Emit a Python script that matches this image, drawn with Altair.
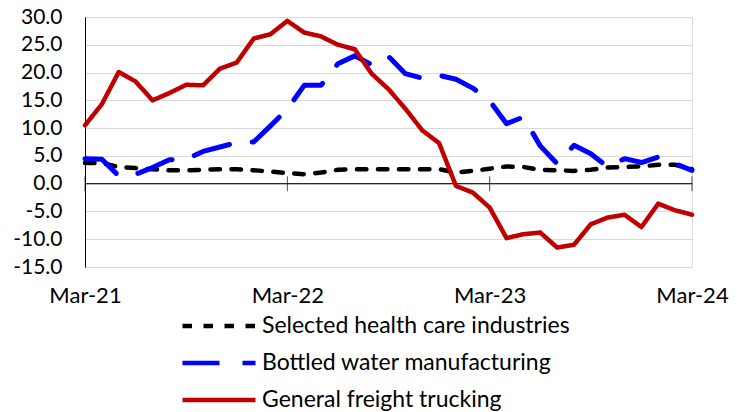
import altair as alt
import pandas as pd

months = [d.strftime("%b-%y") for d in pd.date_range("2021-03-01", "2024-03-01", freq="MS")]
tick_labels = ["Mar-21", "Mar-22", "Mar-23", "Mar-24"]
y_ticks = [-15, -10, -5, 0, 5, 10, 15, 20, 25, 30]

series_names = [
    "Selected health care industries",
    "Bottled water manufacturing",
    "General freight trucking",
]
health = [3.7, 3.7, 3.0, 2.8, 2.6, 2.4, 2.4, 2.5, 2.6, 2.6, 2.4, 2.2,
          1.9, 1.7, 2.0, 2.5, 2.6, 2.6, 2.6, 2.6, 2.6, 2.6, 2.0, 2.3,
          2.7, 3.1, 3.0, 2.5, 2.4, 2.3, 2.5, 2.9, 3.0, 3.1, 3.4, 3.4,
          2.6]
bottled = [4.5, 4.4, 1.4, 1.7, 2.9, 4.3, 4.4, 5.8, 6.6, 7.4, 7.5, 10.4,
           13.4, 17.7, 17.7, 21.6, 23.0, 21.4, 22.9, 19.8, 19.0, 19.5, 18.8, 17.2,
           14.9, 10.8, 12.0, 6.8, 3.6, 6.9, 5.4, 3.0, 4.5, 3.8, 4.8, 3.6,
           2.4]
freight = [10.5, 14.3, 20.1, 18.4, 15.0, 16.3, 17.8, 17.7, 20.7, 21.8, 26.1, 26.9,
           29.3, 27.2, 26.5, 25.0, 24.2, 19.8, 17.0, 13.5, 9.6, 7.3, -0.4, -1.6,
           -4.3, -9.8, -9.1, -8.8, -11.5, -11.0, -7.3, -6.1, -5.6, -7.8, -3.6, -4.8,
           -5.6]

colors = ["#000000", "#0000FF", "#C00000"]
dashes = [[9.5, 11.5], [37, 23], [1, 0]]
widths = [4.5, 5, 4.5]

rows = []
for name, vals in zip(series_names, [health, bottled, freight]):
    for m, v in zip(months, vals):
        rows.append({"month": m, "series": name, "value": v})
df = pd.DataFrame(rows)

FONT = "Lato"
FS = 22

x_scale = alt.Scale(type="point", padding=0)
y_scale = alt.Scale(domain=[-15, 30], nice=False, zero=False)

legend = alt.Legend(
    title=None,
    orient="none",
    legendX=95,
    legendY=298,
    direction="vertical",
    symbolType="stroke",
    symbolSize=5329,
    symbolStrokeWidth=4.5,
    clipHeight=22,
    rowPadding=14,
    labelFont=FONT,
    labelFontSize=23,
    labelColor="black",
    labelOffset=4,
    labelLimit=600,
)

color = alt.Color("series:N", scale=alt.Scale(domain=series_names, range=colors), legend=legend)
dash = alt.StrokeDash("series:N", scale=alt.Scale(domain=series_names, range=dashes), legend=legend)

x_axis = alt.Axis(
    values=tick_labels, labelAngle=0, domain=False, ticks=False, grid=False,
    labelPadding=18, labelFont=FONT, labelFontSize=FS, labelColor="black", title=None,
    labelFlush=False, labelAlign="center", labelOverlap=False, labelBound=False,
)
y_axis = alt.Axis(
    values=y_ticks, ticks=False, domainColor="black", domainWidth=1,
    labelExpr="(datum.value < 0 ? '-' : '') + format(abs(datum.value), '.1f')",
    gridColor="#D9D9D9", gridWidth=1, labelPadding=23, labelFont=FONT,
    labelFontSize=21, labelColor="black", title=None, labelOverlap=False,
    labelFlush=False, labelBound=False,
)
x_enc = alt.X("month:O", sort=months, scale=x_scale, axis=x_axis)
y_enc = alt.Y("value:Q", scale=y_scale, axis=y_axis)

base = alt.Chart(df)
layers = []
for name, w in zip(series_names, widths):
    layers.append(
        base.transform_filter(alt.datum.series == name)
        .mark_line(strokeWidth=w, strokeCap="round", strokeJoin="round")
        .encode(x=x_enc, y=y_enc, color=color, strokeDash=dash)
    )

zero = alt.Chart(pd.DataFrame({"value": [0]})).mark_rule(color="black", strokeWidth=1).encode(
    y=y_enc
)
ticks = alt.Chart(pd.DataFrame({"month": tick_labels, "value": [0] * len(tick_labels)})).mark_tick(
    orient="vertical", size=15, thickness=1, color="black"
).encode(x=x_enc, y=y_enc)

chart = alt.layer(zero, ticks, *layers).properties(
    width=607,
    height=250,
    autosize=alt.AutoSizeParams(type="none"),
    padding={"left": 77, "top": 9, "right": 37, "bottom": 145},
).configure_view(stroke="#D9D9D9", strokeWidth=1).configure(background="white")

chart.save("out.html", embed_options={"renderer": "svg", "actions": False})
